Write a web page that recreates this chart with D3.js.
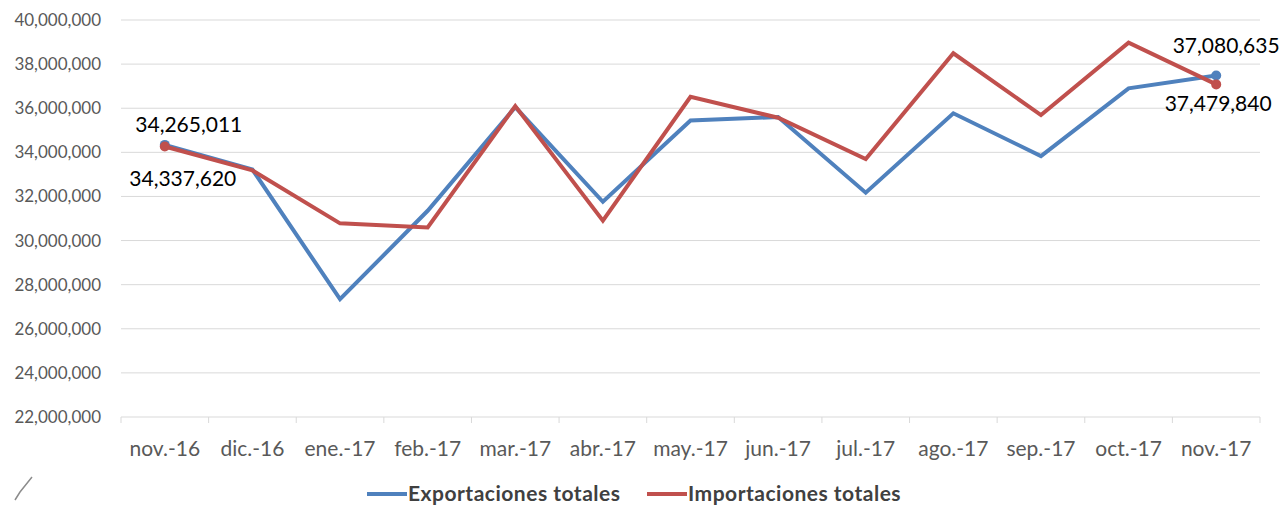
<!DOCTYPE html>
<html>
<head>
<meta charset="utf-8">
<script src="https://cdn.jsdelivr.net/npm/d3@7"></script>
<style>
	body { margin: 0; background: #fff; }
	svg text { font-family: Lato, "Open Sans", sans-serif; }
	.axis text { fill: #595959; }
</style>
</head>
<body>
<script>
	'use strict';

	// chart data
	var months = ["nov.-16", "dic.-16", "ene.-17", "feb.-17", "mar.-17", "abr.-17", "may.-17",
		"jun.-17", "jul.-17", "ago.-17", "sep.-17", "oct.-17", "nov.-17"];
	var exportaciones = [34337620, 33220000, 27340000, 31350000, 36050000, 31760000, 35440000,
		35600000, 32170000, 35770000, 33830000, 36900000, 37479840];
	var importaciones = [34265011, 33180000, 30780000, 30590000, 36100000, 30900000, 36520000,
		35570000, 33700000, 38490000, 35690000, 38970000, 37080635];
	var yTicks = [22000000, 24000000, 26000000, 28000000, 30000000, 32000000, 34000000, 36000000, 38000000, 40000000];
	var seriesNames = ["Exportaciones totales", "Importaciones totales"];
	var seriesColors = ["#4f81bd", "#c0504d"];

	var W = 1279, H = 505;
	var margin = { top: 20, right: 19, bottom: 88, left: 121 };
	var width = W - margin.left - margin.right,
		height = H - margin.top - margin.bottom;

	var svg = d3.select("body").append("svg")
		.attr("width", W).attr("height", H);

	var g = svg.append("g")
		.attr("transform", "translate(" + margin.left + "," + margin.top + ")");

	var x = d3.scaleBand().domain(months).range([0, width]);
	var y = d3.scaleLinear().domain([22000000, 40000000]).range([height, 0]);
	var fmt = d3.format(",");

	// gridlines
	g.append("g").selectAll("line")
		.data(yTicks.slice(1))
		.enter().append("line")
		.attr("x1", 0).attr("x2", width)
		.attr("y1", d => y(d)).attr("y2", d => y(d))
		.attr("stroke", "#d9d9d9").attr("stroke-width", 1);

	// y axis, labels only
	var yAxis = d3.axisLeft(y).tickValues(yTicks).tickFormat(fmt).tickSize(0).tickPadding(20);
	var yAxisG = g.append("g").attr("class", "axis").call(yAxis);
	yAxisG.select(".domain").remove();
	yAxisG.selectAll("text").style("font-size", "17px");

	// x axis line with boundary ticks
	var xAxisG = g.append("g").attr("class", "axis")
		.attr("transform", "translate(0," + height + ")");
	xAxisG.append("line")
		.attr("x1", 0).attr("x2", width)
		.attr("stroke", "#d9d9d9");
	xAxisG.selectAll(".tk")
		.data(months.concat(["end"]))
		.enter().append("line")
		.attr("class", "tk")
		.attr("x1", (d, i) => i * x.step()).attr("x2", (d, i) => i * x.step())
		.attr("y1", 0).attr("y2", 6)
		.attr("stroke", "#d9d9d9");
	xAxisG.selectAll(".lbl")
		.data(months)
		.enter().append("text")
		.attr("class", "lbl")
		.attr("x", d => x(d) + x.bandwidth() / 2)
		.attr("y", 39)
		.attr("text-anchor", "middle")
		.style("font-size", "21px")
		.text(d => d);

	// lines
	var line = d3.line()
		.x((d, i) => x(months[i]) + x.bandwidth() / 2)
		.y(d => y(d));

	[exportaciones, importaciones].forEach(function(s, k) {
		g.append("path")
			.datum(s)
			.attr("fill", "none")
			.attr("stroke", seriesColors[k])
			.attr("stroke-width", 4)
			.attr("stroke-linejoin", "miter")
			.attr("d", line);
		// markers on first and last point
		[0, s.length - 1].forEach(function(i) {
			g.append("circle")
				.attr("cx", x(months[i]) + x.bandwidth() / 2)
				.attr("cy", y(s[i]))
				.attr("r", 5)
				.attr("fill", seriesColors[k]);
		});
	});

	// data labels: import values above, export values below
	var cx0 = x(months[0]) + x.bandwidth() / 2,
		cxN = x(months[months.length - 1]) + x.bandwidth() / 2;
	var labels = [
		{ v: importaciones[0], x: cx0 + 24, y: y(importaciones[0]) - 14 },
		{ v: exportaciones[0], x: cx0 + 18, y: y(exportaciones[0]) + 41 },
		{ v: importaciones[12], x: cxN + 10, y: y(exportaciones[12]) - 23 },
		{ v: exportaciones[12], x: cxN + 2, y: y(importaciones[12]) + 27 }
	];
	g.selectAll(".dl")
		.data(labels)
		.enter().append("text")
		.attr("class", "dl")
		.attr("x", d => d.x).attr("y", d => d.y)
		.attr("text-anchor", "middle")
		.style("font-size", "21px")
		.style("fill", "#000")
		.text(d => fmt(d.v));

	// legend
	var legend = svg.append("g").attr("transform", "translate(0,494)");
	var legendX = [367, 647];
	seriesNames.forEach(function(n, k) {
		legend.append("line")
			.attr("x1", legendX[k]).attr("x2", legendX[k] + 40)
			.attr("y1", 0).attr("y2", 0)
			.attr("stroke", seriesColors[k]).attr("stroke-width", 4);
		legend.append("text")
			.attr("x", legendX[k] + 41).attr("y", 7)
			.style("font-weight", "bold")
			.style("font-size", "21px")
			.style("letter-spacing", "0.5px")
			.style("fill", "#404040")
			.text(n);
	});

	// stray mark at bottom left
	svg.append("path")
		.attr("d", "M32,477 L20,492 L15,500")
		.attr("fill", "none")
		.attr("stroke", "#8c8c8c")
		.attr("stroke-width", 1.5);
</script>
</body>
</html>
